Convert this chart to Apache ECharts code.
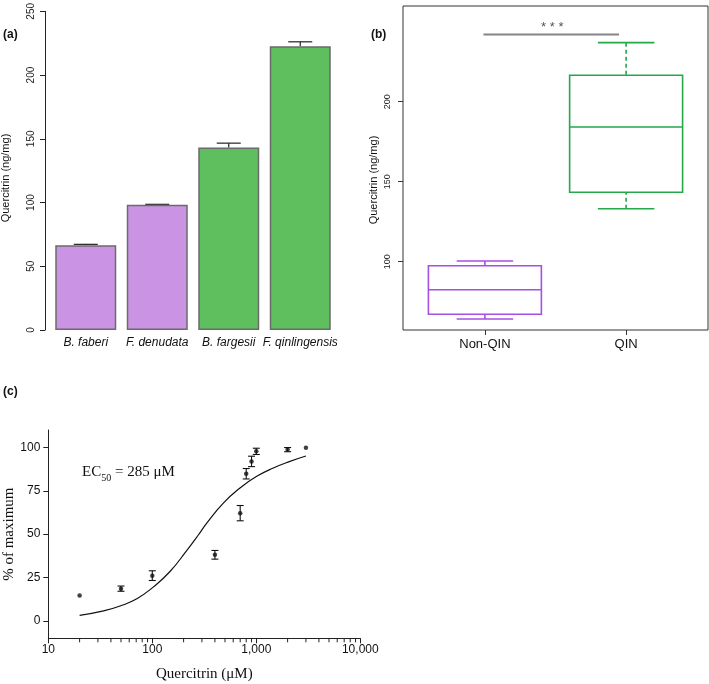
<!DOCTYPE html>
<html><head><meta charset="utf-8">
<script src="https://cdn.jsdelivr.net/npm/echarts@6.0.0/dist/echarts.min.js"></script>
<style>html,body{margin:0;padding:0;background:#fff}#c{width:709px;height:684px}</style>
</head><body><div id="c"></div>
<script>
// ---- panel (a) ----
const speciesNames = ['B. faberi', 'F. denudata', 'B. fargesii', 'F. qinlingensis'];
const speciesMeans = [66.5, 98.2, 143.2, 222.7];
const speciesUpper = [67.2, 98.6, 146.6, 226.1];
const speciesGroup = [0, 0, 1, 1];
// ---- panel (b) ----
const groupNames = ['Non-QIN', 'QIN'];
const groupPos = [1, 2];
const boxStats = [[64.2, 67.1, 82.5, 97.5, 100.4], [133.1, 143.4, 184.2, 216.5, 236.9]];
const bTicks = [100, 150, 200];
const sigFrom = 0.99, sigTo = 1.95, sigLevel = 242, sigText = '* * *';
// ---- panel (c) ----
const conc = [20, 50, 100, 400, 700, 800, 900, 1000, 2000, 3000];
const resp = [14.6, 18.6, 26.1, 38.1, 62.1, 84.8, 91.9, 97.7, 98.7, 99.8];
const respErr = [0, 1.5, 2.8, 2.5, 4.4, 3, 3, 1.8, 1.2, 0];
const fitX = [20, 34, 49, 71, 102, 148, 214, 277, 334, 482, 697, 1009, 1457, 2108, 3000];
const fitY = [3.2, 5.8, 8.6, 12.8, 19.5, 28.5, 40.5, 49.5, 56.4, 67.9, 76.6, 83.3, 88.1, 91.9, 95];
const cYTicks = [0, 25, 50, 75, 100];
const cXMinor = [20, 30, 40, 50, 60, 70, 80, 90, 200, 300, 400, 500, 600, 700, 800, 900,
                 2000, 3000, 4000, 5000, 6000, 7000, 8000, 9000];

const barColors = ['#CA93E4', '#5FBF5F'];
const boxColors = ['#A64FE3', '#23A84A'];
const SANS = 'Liberation Sans';
const SERIF = 'Liberation Serif';
const AX = '#222';

const chart = echarts.init(document.getElementById('c'), null, {renderer: 'canvas'});

const option = {
  animation: false,
  backgroundColor: '#fff',
  grid: [
    {left: 50, top: 10, width: 286, height: 320},
    {left: 403, top: 6, width: 305, height: 324, show: true, borderColor: '#333', borderWidth: 1, backgroundColor: 'transparent'},
    {left: 48.3, top: 430, width: 312, height: 208.3}
  ],
  xAxis: [
    {gridIndex: 0, type: 'category', data: speciesNames,
      axisLine: {show: false, onZero: false}, axisTick: {show: false},
      axisLabel: {fontFamily: SANS, fontStyle: 'italic', fontSize: 12, color: '#111', margin: 7, interval: 0}},
    {gridIndex: 1, type: 'value', min: 0.42, max: 2.58,
      splitLine: {show: false}, axisLine: {show: false, onZero: false},
      axisTick: {show: true, length: 5, lineStyle: {color: '#333'}, customValues: groupPos},
      axisLabel: {fontFamily: SANS, fontSize: 13, color: '#111', margin: 8, customValues: groupPos,
        formatter: v => groupNames[groupPos.indexOf(Math.round(v))] || ''}},
    {gridIndex: 2, type: 'log', logBase: 10, min: 10, max: 10000,
      splitLine: {show: false},
      axisLine: {onZero: false, lineStyle: {color: AX, width: 1}},
      axisTick: {length: 5, lineStyle: {color: AX}},
      axisLabel: {fontFamily: SANS, fontSize: 12, color: '#111', margin: 5,
        formatter: v => Number(v).toLocaleString('en-US')},
      name: 'Quercitrin (μM)', nameLocation: 'middle', nameGap: 28,
      nameTextStyle: {fontFamily: SERIF, fontSize: 15, color: '#111'}}
  ],
  yAxis: [
    {gridIndex: 0, type: 'value', min: 0, max: 250, interval: 50, offset: 5,
      splitLine: {show: false},
      axisLine: {show: true, lineStyle: {color: AX}},
      axisTick: {show: true, length: 5, lineStyle: {color: AX}},
      axisLabel: {fontFamily: SANS, fontSize: 10, color: '#222', rotate: 90, margin: 9, align: 'center', verticalAlign: 'bottom'}},
    {gridIndex: 1, type: 'value', min: 57.3, max: 259.8,
      splitLine: {show: false}, axisLine: {show: false},
      axisTick: {show: true, length: 5, lineStyle: {color: '#333'}, customValues: bTicks},
      axisLabel: {fontFamily: SANS, fontSize: 9, color: '#222', rotate: 90, margin: 11, align: 'center', verticalAlign: 'bottom', customValues: bTicks}},
    {gridIndex: 2, type: 'value', min: -10, max: 110,
      splitLine: {show: false},
      axisLine: {show: true, onZero: false, lineStyle: {color: AX}},
      axisTick: {show: true, length: 5, lineStyle: {color: AX}, customValues: cYTicks},
      axisLabel: {fontFamily: SANS, fontSize: 12, color: '#111', margin: 8, customValues: cYTicks},
      name: '% of maximum', nameLocation: 'middle', nameRotate: 90, nameGap: 32,
      nameTextStyle: {fontFamily: SERIF, fontSize: 15, color: '#111'}}
  ],
  series: [
    {type: 'bar', xAxisIndex: 0, yAxisIndex: 0, barWidth: 61,
      data: speciesMeans.map((v, i) => ({value: v, itemStyle: {color: barColors[speciesGroup[i]]}})),
      itemStyle: {borderColor: '#6B6B6B', borderWidth: 1.5}},
    {type: 'custom', xAxisIndex: 0, yAxisIndex: 0, clip: false,
      data: speciesMeans.map((v, i) => [i, v, speciesUpper[i]]),
      renderItem: (params, api) => {
        const a = api.coord([api.value(0), api.value(1)]);
        const b = api.coord([api.value(0), api.value(2)]);
        const st = {stroke: '#222', lineWidth: 1.2};
        return {type: 'group', children: [
          {type: 'line', shape: {x1: a[0], y1: a[1], x2: b[0], y2: b[1]}, style: st},
          {type: 'line', shape: {x1: b[0] - 12, y1: b[1], x2: b[0] + 12, y2: b[1]}, style: st}
        ]};
      }},
    {type: 'custom', xAxisIndex: 1, yAxisIndex: 1, clip: false,
      data: boxStats.map((s, i) => [groupPos[i]].concat(s)),
      renderItem: (params, api) => {
        const p = api.value(0);
        const lo = api.value(1), q1 = api.value(2), med = api.value(3), q3 = api.value(4), hi = api.value(5);
        const col = boxColors[params.dataIndex];
        const st = {stroke: col, lineWidth: 1.6, fill: null};
        const dash = {stroke: col, lineWidth: 1.6, lineDash: [4, 3]};
        const tl = api.coord([p - 0.4, q3]), br = api.coord([p + 0.4, q1]);
        const m1 = api.coord([p - 0.4, med]), m2 = api.coord([p + 0.4, med]);
        const hT = api.coord([p, hi]), hB = api.coord([p, lo]);
        const cT = api.coord([p, q3]), cB = api.coord([p, q1]);
        const capL = api.coord([p - 0.2, hi])[0], capR = api.coord([p + 0.2, hi])[0];
        return {type: 'group', children: [
          {type: 'rect', shape: {x: tl[0], y: tl[1], width: br[0] - tl[0], height: br[1] - tl[1]}, style: st},
          {type: 'line', shape: {x1: m1[0], y1: m1[1], x2: m2[0], y2: m2[1]}, style: st},
          {type: 'line', shape: {x1: hT[0], y1: hT[1], x2: cT[0], y2: cT[1]}, style: dash},
          {type: 'line', shape: {x1: hB[0], y1: hB[1], x2: cB[0], y2: cB[1]}, style: dash},
          {type: 'line', shape: {x1: capL, y1: hT[1], x2: capR, y2: hT[1]}, style: st},
          {type: 'line', shape: {x1: capL, y1: hB[1], x2: capR, y2: hB[1]}, style: st}
        ]};
      }},
    {type: 'custom', xAxisIndex: 1, yAxisIndex: 1, clip: false,
      data: [[sigFrom, sigTo, sigLevel]],
      renderItem: (params, api) => {
        const a = api.coord([api.value(0), api.value(2)]);
        const b = api.coord([api.value(1), api.value(2)]);
        return {type: 'group', children: [
          {type: 'line', shape: {x1: a[0], y1: a[1], x2: b[0], y2: b[1]}, style: {stroke: '#858585', lineWidth: 2}},
          {type: 'text', x: (a[0] + b[0]) / 2 + 1, y: a[1] - 1,
            style: {text: sigText, font: '13px ' + SANS, fill: '#555', align: 'center', verticalAlign: 'bottom'}}
        ]};
      }},
    {type: 'line', xAxisIndex: 2, yAxisIndex: 2, smooth: 0.5, symbol: 'none',
      data: fitX.map((x, i) => [x, fitY[i]]),
      lineStyle: {color: '#111', width: 1.2}},
    {type: 'custom', xAxisIndex: 2, yAxisIndex: 2, clip: false,
      data: conc.map((x, i) => [x, resp[i], respErr[i]]),
      renderItem: (params, api) => {
        const x = api.value(0), y = api.value(1), e = api.value(2);
        const st = {stroke: '#111', lineWidth: 1.1};
        const kids = [];
        if (e > 0) {
          const t = api.coord([x, y + e]), b = api.coord([x, y - e]);
          kids.push({type: 'line', shape: {x1: t[0], y1: t[1], x2: b[0], y2: b[1]}, style: st});
          kids.push({type: 'line', shape: {x1: t[0] - 3.5, y1: t[1], x2: t[0] + 3.5, y2: t[1]}, style: st});
          kids.push({type: 'line', shape: {x1: b[0] - 3.5, y1: b[1], x2: b[0] + 3.5, y2: b[1]}, style: st});
        }
        return {type: 'group', children: kids};
      }},
    {type: 'scatter', xAxisIndex: 2, yAxisIndex: 2, symbol: 'circle', symbolSize: 4.5,
      data: conc.map((x, i) => [x, resp[i]]),
      itemStyle: {color: '#111'}},
    {type: 'custom', xAxisIndex: 2, yAxisIndex: 2, clip: false, silent: true,
      data: cXMinor.map(v => [v, -10]),
      renderItem: (params, api) => {
        const p = api.coord([api.value(0), api.value(1)]);
        return {type: 'line', shape: {x1: p[0], y1: p[1], x2: p[0], y2: p[1] + 4}, style: {stroke: AX, lineWidth: 1}};
      }}
  ],
  graphic: [
    {type: 'text', left: 3, top: 29, style: {text: '(a)', font: 'bold 12px ' + SANS, fill: '#111'}},
    {type: 'text', left: 371, top: 29, style: {text: '(b)', font: 'bold 12px ' + SANS, fill: '#111'}},
    {type: 'text', left: 3, top: 386, style: {text: '(c)', font: 'bold 12px ' + SANS, fill: '#111'}},
    {type: 'text', x: 6, y: 178, rotation: Math.PI / 2,
      style: {text: 'Quercitrin (ng/mg)', font: '11px ' + SANS, fill: '#111', align: 'center', verticalAlign: 'middle'}},
    {type: 'text', x: 374, y: 180, rotation: Math.PI / 2,
      style: {text: 'Quercitrin (ng/mg)', font: '11px ' + SANS, fill: '#111', align: 'center', verticalAlign: 'middle'}},
    {type: 'text', left: 82, top: 465, style: {
      text: '{n|EC}{s|50}{n| = 285 μM}',
      rich: {
        n: {fontFamily: SERIF, fontSize: 15, fill: '#111', lineHeight: 18, verticalAlign: 'bottom'},
        s: {fontFamily: SERIF, fontSize: 10, fill: '#111', lineHeight: 18, verticalAlign: 'bottom', padding: [0, 0, -3, 0]}
      }}}
  ]
};
chart.setOption(option);
</script>
</body></html>
